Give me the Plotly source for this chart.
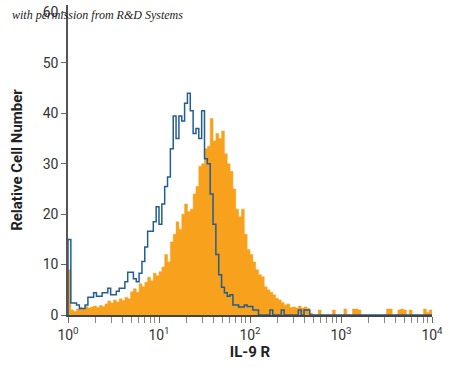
import numpy as np
import plotly.graph_objects as go

# 128 log-spaced channels spanning 10^0 .. 10^4
n_channels = 128
decade_min, decade_max = 0, 4

# Isotype / control (blue outline) counts per channel
control_counts = [
    15, 2.4, 2.4, 2, 1.3, 1.3, 2, 3.5, 3.5, 4.4,
    3.7, 3.7, 4.4, 4.4, 5.3, 4, 4, 4.7, 5.3, 5.3,
    6.6, 8.5, 8.5, 7.2, 6.6, 8.3, 10.6, 13.5, 16.6, 16.6,
    18.5, 21.5, 18, 22, 25.5, 27.4, 33, 39.5, 35, 39.5,
    38.5, 42, 44, 40.5, 36, 37, 35, 40.5, 31, 30,
    24, 18, 12, 8, 5.5, 4.4, 3.7, 4, 2, 2,
    1.6, 1.6, 2, 1.7, 1.7, 1, 1, 0, 0, 0,
    0, 1, 0, 0, 0, 1, 0, 0, 0, 0,
    0, 1, 0, 1, 1, 0, 0, 0, 0, 0,
    0, 0, 0, 0, 0, 0, 0, 0, 0, 0,
    0, 0, 0, 0, 0, 0, 0, 0, 0, 0,
    0, 0, 0, 0, 0, 0, 0, 0, 0, 0,
    0, 0, 0, 0, 0, 0, 0, 0,
]

# IL-9 R stained (orange filled) counts per channel
stained_counts = [
    9, 1, 0.7, 1.2, 1.5, 1.2, 1.7, 1.4, 1.6, 1.8,
    1.5, 1.9, 1.7, 2.2, 2.8, 2.4, 3, 2.6, 3.2, 2.9,
    3.5, 3.2, 4.6, 5.2, 4.5, 6.2, 5.6, 6.5, 7.5, 6.8,
    8.3, 7.8, 8.6, 9.5, 12, 10.5, 14.5, 16, 18.5, 17,
    20, 22, 20.5, 21, 24, 25.5, 29.5, 30, 33, 33.5,
    39, 34.5, 36, 35, 36.5, 32, 30, 28.5, 25, 21,
    19.5, 21, 16, 13, 12, 10.5, 9, 8, 7.6, 5.6,
    5, 4.5, 4, 3.3, 3, 2.5, 2, 2.2, 1.5, 1.6,
    1.4, 1.8, 1.4, 1.6, 1.3, 0.4, 0, 0, 1, 0,
    0, 0, 0, 1, 0, 0, 0, 1.2, 0, 0,
    1.2, 1.2, 1, 0, 0, 0, 0, 0, 0, 0,
    0, 0, 1.2, 1.2, 0, 0, 1, 1.2, 1, 0,
    1, 0, 0, 0, 0, 1.2, 0.5, 1,
]

x_tickvals = [1, 10, 100, 1000, 10000]
x_ticktext = ["10<sup>0</sup>", "10<sup>1</sup>", "10<sup>2</sup>", "10<sup>3</sup>", "10<sup>4</sup>"]
y_tickvals = [0, 10, 20, 30, 40, 50, 60]

edges = 10 ** np.linspace(decade_min, decade_max, n_channels + 1)
step_x = list(edges)

orange = "#F8A11D"
blue = "#235E93"

fig = go.Figure()
fig.add_trace(go.Scatter(
    x=step_x, y=stained_counts + [stained_counts[-1]],
    mode="lines", line=dict(shape="hv", color=orange, width=0.5),
    fill="tozeroy", fillcolor=orange, hoverinfo="skip", showlegend=False,
))
fig.add_trace(go.Scatter(
    x=[edges[0]] + step_x, y=[0] + control_counts + [control_counts[-1]],
    mode="lines", line=dict(shape="hv", color=blue, width=1.5),
    hoverinfo="skip", showlegend=False,
))

W, H = 450, 376
ml, mr, mt, mb = 68, 18, 5, 61
tick_font = dict(family="Roboto, sans-serif", size=14, color="#333333")
title_font = dict(family="Roboto, sans-serif", size=15, color="#222222")

minor_vals = []
for d in range(decade_min, decade_max):
    for m in range(2, 10):
        minor_vals.append(m * 10 ** d)

fig.update_layout(
    width=W, height=H,
    margin=dict(l=ml, r=mr, t=mt, b=mb),
    paper_bgcolor="white", plot_bgcolor="white",
    xaxis=dict(
        type="log", range=[decade_min, decade_max], automargin=False,
        tickmode="array", tickvals=x_tickvals, ticktext=x_ticktext,
        ticks="outside", ticklen=6, tickwidth=1, tickcolor="#666666",
        minor=dict(tickmode="array", tickvals=minor_vals, ticks="outside", ticklen=6, tickwidth=1, tickcolor="#888888"),
        showgrid=False, zeroline=False,
        showline=True, linecolor="#444444", linewidth=2,
        tickfont=tick_font,
        title=dict(text="<b>IL-9 R</b>", font=title_font, standoff=4),
    ),
    yaxis=dict(
        range=[0, 61.5], automargin=False,
        tickmode="array", tickvals=y_tickvals,
        ticks="outside", ticklen=5, tickwidth=1, tickcolor="#666666",
        showgrid=False, zeroline=False,
        showline=True, linecolor="#555555", linewidth=1.5,
        tickfont=tick_font,
        title=dict(text="<b>Relative Cell Number</b>", font=title_font, standoff=16),
    ),
    annotations=[dict(
        text="<i>with permission from R&amp;D Systems</i>",
        xref="paper", yref="paper",
        x=(10 - ml) / (W - ml - mr), y=(H - mb - 15) / (H - mt - mb),
        xanchor="left", yanchor="middle", showarrow=False,
        font=dict(family="Liberation Serif, Times New Roman, serif", size=12, color="#222222"),
    )],
)

fig.write_html(
    "out.html",
    config={"displayModeBar": False},
    post_script="document.body.style.margin='0';document.body.style.overflow='hidden';",
)
